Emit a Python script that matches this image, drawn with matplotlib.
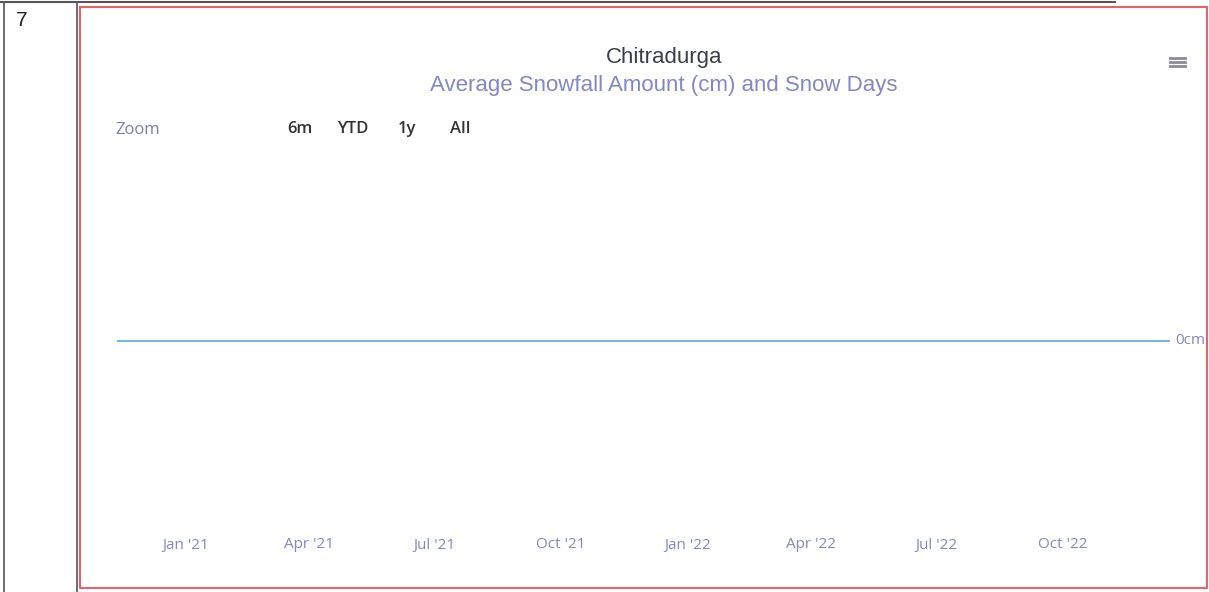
import datetime as dt

import matplotlib
matplotlib.use("Agg")
import matplotlib.pyplot as plt
from matplotlib.lines import Line2D

# monthly average snowfall (cm) for Chitradurga - flat zero the whole range
months = [dt.date(2020, 11, 12)] + [dt.date(2020 + (m // 12), m % 12 + 1, 15) for m in range(11, 35)] + [dt.date(2022, 12, 18)]
snowfall_cm = [0.0] * len(months)

tick_dates = [dt.date(2021, 1, 1), dt.date(2021, 4, 1), dt.date(2021, 7, 1), dt.date(2021, 10, 1),
              dt.date(2022, 1, 1), dt.date(2022, 4, 1), dt.date(2022, 7, 1), dt.date(2022, 10, 1)]
tick_labels = ["Jan '21", "Apr '21", "Jul '21", "Oct '21", "Jan '22", "Apr '22", "Jul '22", "Oct '22"]
zoom_buttons = ["6m", "YTD", "1y", "All"]

W, H = 1209, 592
fig = plt.figure(figsize=(W / 100, H / 100), dpi=100)
plt.rcParams["font.family"] = ["Liberation Sans", "DejaVu Sans"]
ui_font = ["Open Sans", "DejaVu Sans"]

# overlay in pixel coords for the page frame / titles
ov = fig.add_axes([0, 0, 1, 1])
ov.set_xlim(0, W); ov.set_ylim(H, 0); ov.axis("off")

frame = "#555555"
red = "#e8606a"
ov.add_line(Line2D([0, 1115], [2, 2], color=frame, lw=1.5))
ov.add_line(Line2D([4, 4], [2, H], color=frame, lw=1.2))
ov.add_line(Line2D([77, 77], [2, H], color=frame, lw=1.2))
ov.plot([80, 1207, 1207, 80, 80], [7, 7, 588, 588, 7], color=red, lw=1.5)
ov.text(22, 21, "7", fontsize=15, color="#222222", ha="center", va="center")

ov.text(664, 57, "Chitradurga", fontsize=16, color="#3a3f4a", ha="center", va="center")
ov.text(664, 86, "Average Snowfall Amount (cm) and Snow Days", fontsize=16, color="#8288c0",
        ha="center", va="center")

ov.text(115, 130, "Zoom", fontsize=12, color="#7a7fa8", ha="left", va="center", family=ui_font)
for label, x in zip(zoom_buttons, [300, 353, 407, 460]):
    ov.text(x, 129, label, fontsize=12, color="#333333", ha="center", va="center",
            family=ui_font, weight="semibold")

# hamburger menu
for y in [58, 62, 66]:
    ov.add_line(Line2D([1170, 1185], [y, y], color="#8a8a9a", lw=2))

ov.text(1190, 340, "0cm", fontsize=11, color="#8288c0", ha="center", va="center", family=ui_font)

# chart area
ax = fig.add_axes([117 / W, 1 - 525 / H, (1170 - 117) / W, (525 - 160) / H])
ax.patch.set_alpha(0)
ax.plot(months, snowfall_cm, color="#7cb5ec", lw=1.5)
ax.set_xlim(months[0], months[-1])
ax.set_ylim(-1.008, 0.992)
ax.set_yticks([])
ax.set_xticks(tick_dates)
ax.set_xticklabels(tick_labels, fontsize=11, color="#8288c0", family=ui_font)
ax.tick_params(axis="x", length=0, pad=9)
for s in ax.spines.values():
    s.set_visible(False)

fig.savefig("out.png", dpi=100)
